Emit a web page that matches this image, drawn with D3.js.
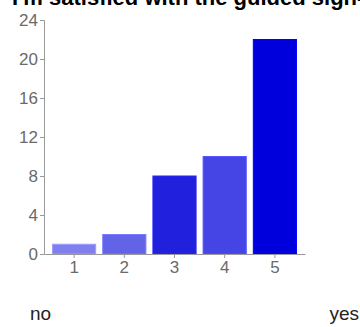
<!DOCTYPE html>
<html>
<head>
<meta charset="utf-8">
<script src="https://cdn.jsdelivr.net/npm/d3@7"></script>
<style>
  body { margin: 0; background: #fff; }
  svg { display: block; font-family: "Liberation Sans", Arial, sans-serif; }
</style>
</head>
<body>
<svg id="chart" width="360" height="327"></svg>
<script>
const title = "I'm satisfied with the guided sign-up process";
const categories = ["1", "2", "3", "4", "5"];
const counts = [1, 2, 8, 10, 22];
const barColors = ["#7f7fef", "#6363e8", "#2020dd", "#4545e5", "#0000dd"];
const yTicks = [0, 4, 8, 12, 16, 20, 24];
const lowLabel = "no", highLabel = "yes";

const svg = d3.select("#chart");

const x = d3.scaleBand().domain(categories).range([44, 305])
    .paddingInner(0.14).paddingOuter(0.17);
const y = d3.scaleLinear().domain([0, 24]).range([254, 20]);

// title, cut off at the top like the original
svg.append("text")
    .attr("x", 12)
    .attr("y", 5)
    .attr("font-size", 22)
    .attr("font-weight", "bold")
    .attr("fill", "#000")
    .text(title);

// bars
svg.selectAll("rect.bar")
    .data(counts)
    .join("rect")
    .attr("class", "bar")
    .attr("x", (d, i) => x(categories[i]))
    .attr("y", d => y(d))
    .attr("width", x.bandwidth())
    .attr("height", d => y(0) - y(d))
    .attr("fill", (d, i) => barColors[i])
    .attr("stroke", (d, i) => d3.color(barColors[i]).brighter(0.6))
    .attr("stroke-width", 1);

// axes
const yAxis = svg.append("g")
    .attr("transform", "translate(44,0)")
    .call(d3.axisLeft(y).tickValues(yTicks).tickSize(4).tickPadding(2));

const xAxis = svg.append("g")
    .attr("transform", "translate(0,254)")
    .call(d3.axisBottom(x).tickSize(4).tickPadding(3).tickSizeOuter(0));

[yAxis, xAxis].forEach(g => {
    g.select(".domain").attr("stroke", "#999");
    g.selectAll(".tick line").attr("stroke", "#999");
    g.selectAll(".tick text")
        .attr("fill", "#6a6a6a")
        .attr("font-size", 17)
        .attr("font-family", "Liberation Sans, Arial, sans-serif");
});
yAxis.select(".domain").attr("d", "M-4,20.5H0.5V254.5");

// scale end labels
svg.append("text")
    .attr("x", 30)
    .attr("y", 320)
    .attr("font-size", 19)
    .attr("fill", "#222")
    .text(lowLabel);

svg.append("text")
    .attr("x", 359)
    .attr("y", 320)
    .attr("text-anchor", "end")
    .attr("font-size", 19)
    .attr("fill", "#222")
    .text(highLabel);
</script>
</body>
</html>
